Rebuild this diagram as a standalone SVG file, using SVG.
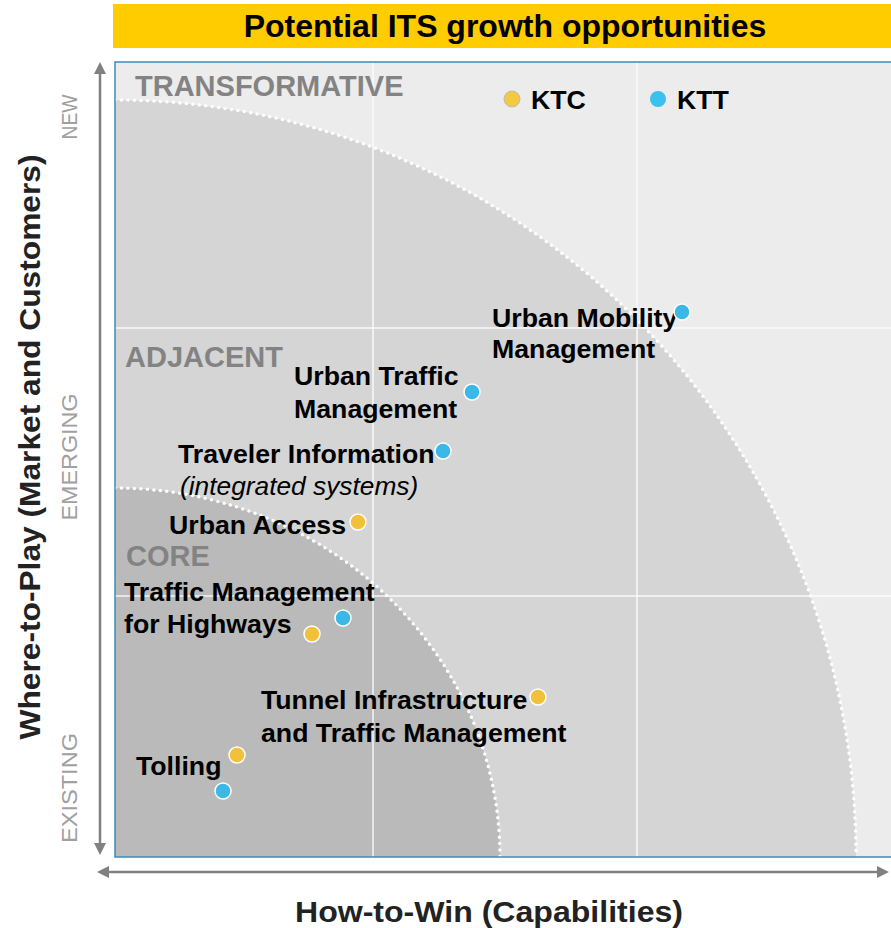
<svg xmlns="http://www.w3.org/2000/svg" width="891" height="928" viewBox="0 0 891 928">
<style>
.lbl{font-family:"Liberation Sans",Arial,sans-serif;font-weight:bold;font-size:26.7px;fill:#000}
.ital{font-family:"Liberation Sans",Arial,sans-serif;font-style:italic;font-size:26.3px;fill:#000}
.zone{font-family:"Liberation Sans",Arial,sans-serif;font-weight:bold;font-size:29px;fill:#838383}
.tick{font-family:"Liberation Sans",Arial,sans-serif;font-size:22px;fill:#a0a0a0}
.axis{font-family:"Liberation Sans",Arial,sans-serif;font-weight:bold;font-size:30px;fill:#222}
.ktc{fill:#f2c13c;stroke:#fff;stroke-width:1.5}
.ktt{fill:#3cb8e6;stroke:#fff;stroke-width:1.5}
.grid{stroke:#fff;stroke-width:1.5;opacity:0.85}
.arcb{fill:none;stroke:#fff;stroke-width:3.5;stroke-linecap:round;stroke-dasharray:0 6.5}
.arr{stroke:#808080;stroke-width:2.5;fill:none;marker-start:url(#ah);marker-end:url(#ah)}
</style>
<defs>
<marker id="ah" viewBox="0 0 12 12" refX="2" refY="6" markerWidth="12" markerHeight="12" markerUnits="userSpaceOnUse" orient="auto-start-reverse">
<path d="M0,0 L12,6 L0,12 Z" fill="#808080"/>
</marker>
<clipPath id="plot"><rect x="115" y="62" width="800" height="795"/></clipPath>
</defs>
<rect width="891" height="928" fill="#fff"/>
<g id="title">
<rect x="113" y="4" width="778" height="44" fill="#ffcc00"/>
<text x="505" y="36.5" text-anchor="middle" font-family="Liberation Sans, Arial, sans-serif" font-weight="bold" font-size="32" fill="#000">Potential ITS growth opportunities</text>
</g>
<g id="plot-area" clip-path="url(#plot)">
<rect x="115" y="62" width="800" height="795" fill="#ececec"/>
<path d="M115,100 A741,757 0 0 1 856,857 L115,857 Z" fill="#d5d5d5"/>
<path d="M115,488 A385,369 0 0 1 500,857 L115,857 Z" fill="#bababa"/>
<line class="grid" x1="373" y1="62" x2="373" y2="857"/>
<line class="grid" x1="637" y1="62" x2="637" y2="857"/>
<line class="grid" x1="115" y1="328" x2="891" y2="328"/>
<line class="grid" x1="115" y1="596" x2="891" y2="596"/>
<path class="arcb" d="M115,100 A741,757 0 0 1 856,857"/>
<path class="arcb" d="M115,488 A385,369 0 0 1 500,857"/>
</g>
<rect x="115" y="62" width="800" height="795" fill="none" stroke="#3f8ab5" stroke-width="1.5"/>
<g id="zones">
<text class="zone" x="135" y="96">TRANSFORMATIVE</text>
<text class="zone" x="125" y="367">ADJACENT</text>
<text class="zone" x="126" y="566">CORE</text>
</g>
<g id="legend">
<circle cx="512" cy="99" r="8" fill="#f5c842" stroke="#bbb" stroke-width="1"/>
<text class="lbl" x="531" y="109">KTC</text>
<circle cx="658" cy="99" r="8" fill="#3cc0ee"/>
<text class="lbl" x="677" y="109">KTT</text>
</g>
<g id="axes">
<line class="arr" x1="100" y1="72" x2="100" y2="845"/>
<line class="arr" x1="107" y1="872" x2="879" y2="872"/>
<text class="axis" transform="translate(40,447) rotate(-90)" text-anchor="middle" textLength="585" lengthAdjust="spacingAndGlyphs">Where-to-Play (Market and Customers)</text>
<text class="axis" x="489" y="922" text-anchor="middle" textLength="388" lengthAdjust="spacingAndGlyphs">How-to-Win (Capabilities)</text>
<text class="tick" transform="translate(77,117) rotate(-90)" text-anchor="middle" textLength="45" lengthAdjust="spacingAndGlyphs">NEW</text>
<text class="tick" transform="translate(77,457) rotate(-90)" text-anchor="middle" textLength="127" lengthAdjust="spacingAndGlyphs">EMERGING</text>
<text class="tick" transform="translate(77,788) rotate(-90)" text-anchor="middle" textLength="110" lengthAdjust="spacingAndGlyphs">EXISTING</text>
</g>
<g id="node-umm">
<text class="lbl" x="492" y="327">Urban Mobility</text>
<text class="lbl" x="492" y="358">Management</text>
<circle class="ktt" cx="682" cy="312" r="8"/>
</g>
<g id="node-utm">
<text class="lbl" x="294" y="385">Urban Traffic</text>
<text class="lbl" x="294" y="418">Management</text>
<circle class="ktt" cx="472" cy="392" r="8"/>
</g>
<g id="node-ti">
<text class="lbl" x="178" y="463">Traveler Information</text>
<text class="ital" x="180" y="495">(integrated systems)</text>
<circle class="ktt" cx="443" cy="451" r="8"/>
</g>
<g id="node-ua">
<text class="lbl" x="169" y="534">Urban Access</text>
<circle class="ktc" cx="358" cy="522" r="8"/>
</g>
<g id="node-tmh">
<text class="lbl" x="124" y="601">Traffic Management</text>
<text class="lbl" x="124" y="633">for Highways</text>
<circle class="ktt" cx="343" cy="618" r="8"/>
<circle class="ktc" cx="312" cy="634" r="8"/>
</g>
<g id="node-tunnel">
<text class="lbl" x="261" y="709">Tunnel Infrastructure</text>
<text class="lbl" x="261" y="742">and Traffic Management</text>
<circle class="ktc" cx="538" cy="697" r="8"/>
</g>
<g id="node-tolling">
<text class="lbl" x="136" y="775">Tolling</text>
<circle class="ktc" cx="237" cy="755" r="8"/>
<circle class="ktt" cx="223" cy="791" r="8"/>
</g>
</svg>
